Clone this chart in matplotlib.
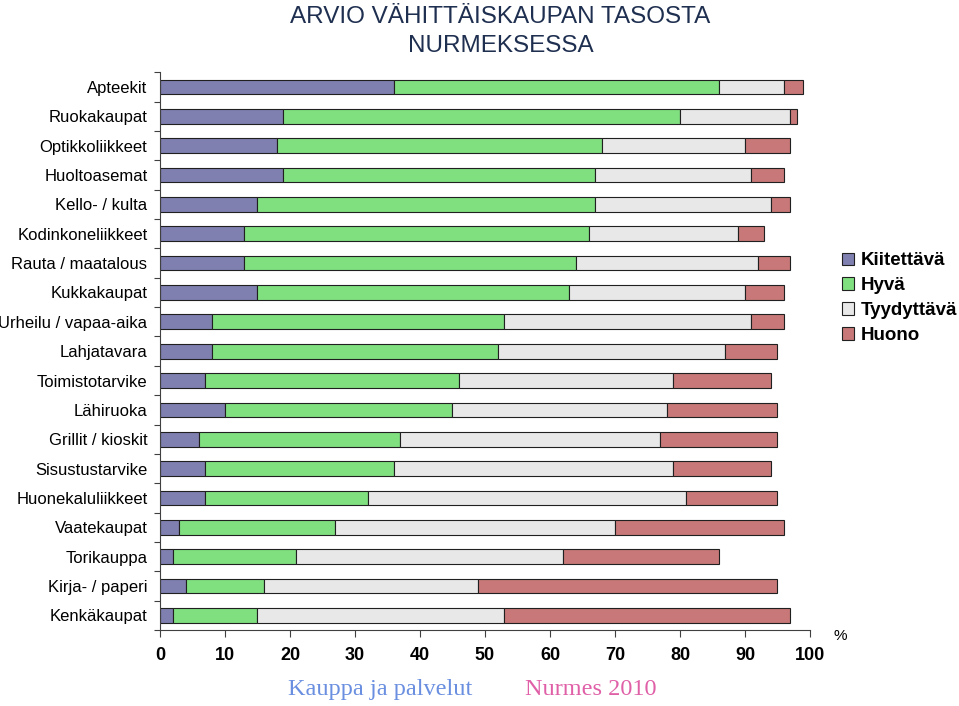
import matplotlib
matplotlib.use("Agg")
import matplotlib.pyplot as plt
import numpy as np

# Categories, top to bottom as in the chart
categories = ["Apteekit", "Ruokakaupat", "Optikkoliikkeet", "Huoltoasemat",
              "Kello- / kulta", "Kodinkoneliikkeet", "Rauta / maatalous",
              "Kukkakaupat", "Urheilu / vapaa-aika", "Lahjatavara",
              "Toimistotarvike", "Lähiruoka", "Grillit / kioskit",
              "Sisustustarvike", "Huonekaluliikkeet", "Vaatekaupat",
              "Torikauppa", "Kirja- / paperi", "Kenkäkaupat"]

# Shares (%) per rating
kiitettava = [36, 19, 18, 19, 15, 13, 13, 15, 8, 8, 7, 10, 6, 7, 7, 3, 2, 4, 2]
hyva = [50, 61, 50, 48, 52, 53, 51, 48, 45, 44, 39, 35, 31, 29, 25, 24, 19, 12, 13]
tyydyttava = [10, 17, 22, 24, 27, 23, 28, 27, 38, 35, 33, 33, 40, 43, 49, 43, 41, 33, 38]
huono = [3, 1, 7, 5, 3, 4, 5, 6, 5, 8, 15, 17, 18, 15, 14, 26, 24, 46, 44]

series = ["Kiitettävä", "Hyvä", "Tyydyttävä", "Huono"]
colors = ["#8080B0", "#80E080", "#E8E8E8", "#C87878"]
xticks = [0, 10, 20, 30, 40, 50, 60, 70, 80, 90, 100]

plt.rcParams["font.family"] = ["Liberation Sans", "DejaVu Sans"]

fig = plt.figure(figsize=(9.59, 7.06), dpi=100)
ax = fig.add_axes([0.1668, 0.1076, 0.6778, 0.790])

y = np.arange(len(categories))
left = np.zeros(len(categories))
for vals, name, col in zip([kiitettava, hyva, tyydyttava, huono], series, colors):
    ax.barh(y, vals, left=left, height=0.5, color=col, edgecolor="#202020",
            linewidth=0.8, label=name)
    left += np.array(vals)

ax.set_xlim(0, 100)
ax.set_ylim(len(categories) - 0.5, -0.5)

# tick marks between categories, labels at the bar centres
ax.set_yticks(np.arange(-0.5, len(categories), 1))
ax.set_yticklabels([])
ax.set_yticks(y, minor=True)
ax.set_yticklabels(categories, minor=True, fontsize=12)
ax.tick_params(axis="y", which="minor", length=0, pad=9)
ax.tick_params(axis="y", which="major", length=4, direction="out", color="#404040")

ax.set_xticks(xticks)
ax.set_xticklabels([str(t) for t in xticks], fontsize=13, fontweight="bold")
ax.tick_params(axis="x", length=5, direction="out", pad=7, color="#404040")

for s in ["top", "right"]:
    ax.spines[s].set_visible(False)
for s in ["left", "bottom"]:
    ax.spines[s].set_color("#404040")

fig.text(0.522, 0.992, "ARVIO VÄHITTÄISKAUPAN TASOSTA\nNURMEKSESSA",
         ha="center", va="top", fontsize=17.5, color="#1F2F50", linespacing=1.45)

ax.legend(loc="center left", bbox_to_anchor=(1.038, 0.595), frameon=False,
          borderaxespad=0, handlelength=0.65, handleheight=0.65,
          handletextpad=0.35, labelspacing=0.42,
          prop={"size": 13.5, "weight": "bold"})

fig.text(0.876, 0.099, "%", ha="center", va="center", fontsize=11)
fig.text(0.396, 0.024, "Kauppa ja palvelut", ha="center", va="center",
         fontsize=17.5, color="#6A8FE0", family="Liberation Serif")
fig.text(0.616, 0.024, "Nurmes 2010", ha="center", va="center",
         fontsize=17.5, color="#E060A8", family="Liberation Serif")

fig.savefig("out.png", dpi=100)
